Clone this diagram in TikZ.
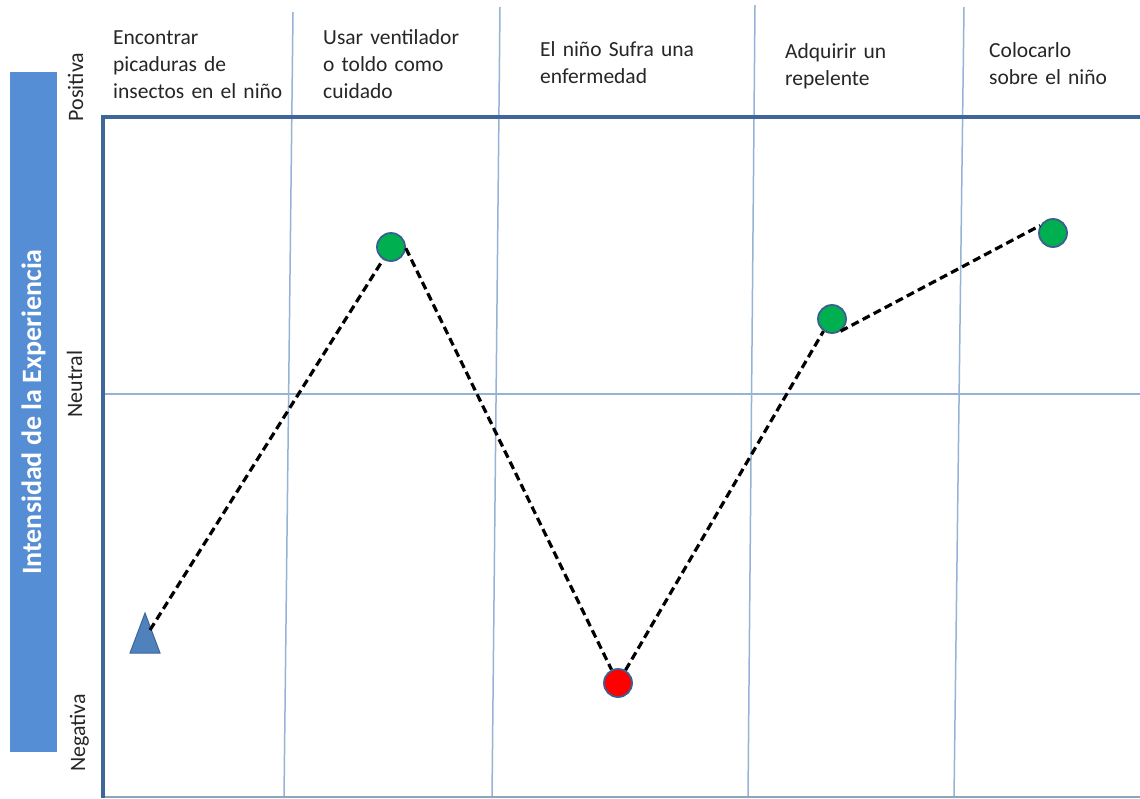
\documentclass[tikz,border=0pt]{standalone}
\usepackage{fontspec}
\setmainfont{Carlito}
\definecolor{barblue}{HTML}{558ED5}
\definecolor{axisblue}{HTML}{3F6699}
\definecolor{sepblue}{HTML}{95B3D7}
\definecolor{ptgreen}{HTML}{00B050}
\definecolor{ptred}{HTML}{FF0000}
\definecolor{ptborder}{HTML}{3B5F91}
\definecolor{trifill}{HTML}{4F81BD}
\definecolor{textgray}{HTML}{262626}
\begin{document}
\begin{tikzpicture}[x=1pt,y=-1pt,
  header/.style={anchor=base west, inner sep=0, text width=190pt, align=left,
    font=\fontsize{21.5}{27}\selectfont, text=textgray},
  level/.style={rotate=90, anchor=base, inner sep=0, font=\fontsize{22}{26}\selectfont, text=textgray},
  sepline/.style={draw=sepblue, line width=1.5pt},
  axisline/.style={draw=axisblue, line width=3.2pt},
  pt/.style={circle, draw=ptborder, line width=1.8pt, minimum size=28pt, inner sep=0},
  dashline/.style={draw=black, line width=3.2pt, dash pattern=on 8pt off 4.5pt}]
\useasboundingbox (0,0) rectangle (1140,798);
\fill[white] (0,0) rectangle (1140,798);
% left bar
\node[fill=barblue, rotate=90, minimum width=680pt, minimum height=47pt, inner sep=0,
  text=white, font=\fontsize{28}{32}\selectfont\bfseries] (bar) at (33.5,412) {Intensidad de la Experiencia};
% level labels
\node[level] (pos) at (83,87) {Positiva};
\node[level] (neu) at (82,384) {Neutral};
\node[level] (neg) at (85,733) {Negativa};
% separators
\draw[sepline] (293,12) -- (284,798);
\draw[sepline] (500,7) -- (492,798);
\draw[sepline] (755,5) -- (748,798);
\draw[sepline] (964,7) -- (954,798);
% neutral line and bottom
\draw[draw=sepblue, line width=1.5pt] (103,394) -- (1140,394);
\draw[draw=sepblue!70!gray, line width=1.5pt] (103,797) -- (1140,797);
% axes
\draw[axisline] (103,798) -- (103,117) -- (1140,117);
% headers
\node[header] (h1) at (113,44) {Encontrar\\picaduras de\\insectos en el niño};
\node[header] (h2) at (323,44) {Usar ventilador\\o toldo como\\cuidado};
\node[header] (h3) at (540,56) {El niño Sufra una\\enfermedad};
\node[header] (h4) at (785,58) {Adquirir un\\repelente};
\node[header] (h5) at (989,57) {Colocarlo\\sobre el niño};
% markers
\filldraw[fill=trifill, draw=axisblue, line width=1pt] (145,613) -- (160,653) -- (130,653) -- cycle;
\coordinate (t0) at (150,630);
\node[pt, fill=ptgreen] (p1) at (391,247) {};
\node[pt, fill=ptred] (p2) at (618,683) {};
\node[pt, fill=ptgreen] (p3) at (832,319) {};
\node[pt, fill=ptgreen] (p4) at (1053,233) {};
% connectors
\draw[dashline] (t0) -- (p1);
\draw[dashline] (p1.-5) -- (p2);
\draw[dashline] (p2) -- (p3.-125);
\draw[dashline] (p3.-55) -- (p4.150);
\end{tikzpicture}
\end{document}
